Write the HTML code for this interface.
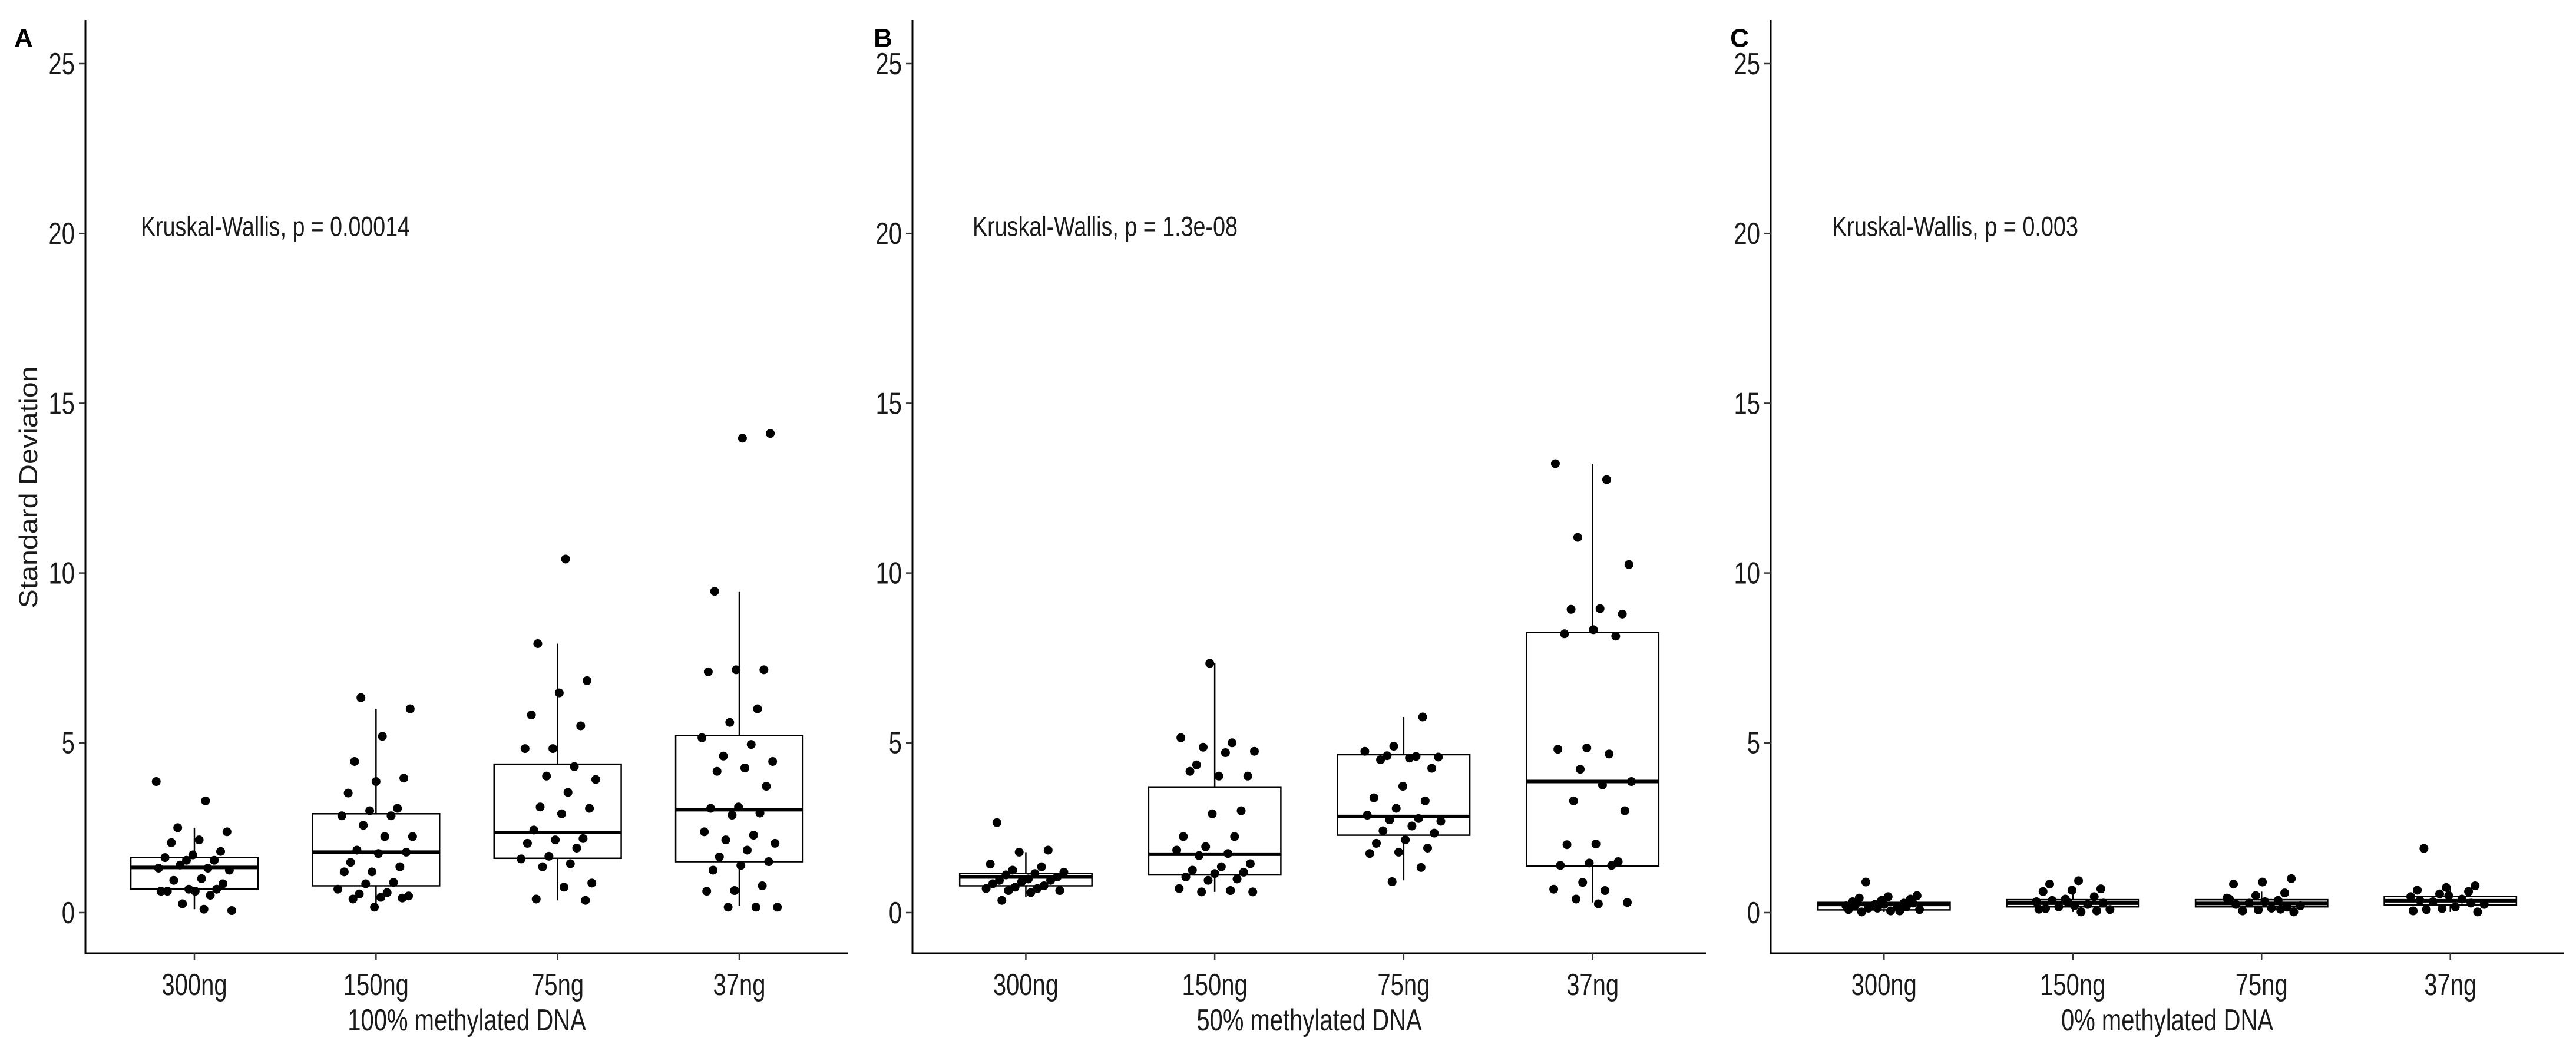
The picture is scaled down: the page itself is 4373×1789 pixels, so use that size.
<!DOCTYPE html>
<html><head><meta charset="utf-8"><style>
html,body{margin:0;padding:0;background:#fff;}
svg{display:block;font-family:"Liberation Sans",Arial,sans-serif;}
</style></head><body>
<svg id="chart" width="4373" height="1789" viewBox="0 0 4373 1789" xmlns="http://www.w3.org/2000/svg"></svg>
<script>
const categories = ["300ng","150ng","75ng","37ng"];
const yTicks = [0,5,10,15,20,25];
const panelLetters = ["A","B","C"];
const panelTitles = ["100% methylated DNA","50% methylated DNA","0% methylated DNA"];
const pLabels = ["Kruskal-Wallis, p = 0.00014","Kruskal-Wallis, p = 1.3e-08","Kruskal-Wallis, p = 0.003"];
// box stats per panel: [q1, median, q3, whiskerLow, whiskerHigh] per category
const boxA = [[0.69,1.33,1.62,0.1,2.5],[0.79,1.78,2.91,0.2,6.0],[1.6,2.36,4.37,0.36,7.92],[1.5,3.03,5.21,0.2,9.46]];
const boxB = [[0.79,1.05,1.15,0.45,1.78],[1.11,1.72,3.7,0.61,7.34],[2.28,2.83,4.65,0.95,5.76],[1.37,3.86,8.25,0.3,13.22]];
const boxC = [[0.08,0.24,0.3,0.02,0.5],[0.17,0.28,0.38,0.02,0.66],[0.17,0.27,0.38,0.02,0.62],[0.23,0.35,0.48,0.02,0.8]];
// raw points
const ptsA300 = [3.86,3.29,2.5,2.38,2.14,2.06,1.8,1.7,1.62,1.54,1.54,1.31,1.31,1.4,1.25,1.0,0.95,0.85,0.63,0.63,0.69,0.69,0.63,0.51,0.26,0.06,0.1];
const ptsA150 = [6.33,6.0,5.19,4.45,3.96,3.86,3.52,3.07,3.0,2.85,2.85,2.57,2.24,2.24,1.84,1.78,1.74,1.48,1.35,1.2,1.2,0.89,0.85,0.69,0.59,0.55,0.49,0.45,0.4,0.43,0.16];
const ptsA75 = [10.41,7.92,6.83,6.47,5.82,5.5,4.83,4.83,4.3,4.02,3.92,3.54,3.11,3.07,2.91,2.43,2.18,2.14,2.04,1.9,1.66,1.58,1.44,1.35,0.87,0.75,0.4,0.36];
const ptsA37 = [14.11,13.97,9.46,7.15,7.15,7.09,6.0,5.6,5.15,4.95,4.61,4.45,4.26,4.16,3.72,3.11,3.07,2.93,2.87,2.38,2.28,2.14,2.04,1.84,1.64,1.5,1.39,1.25,0.79,0.65,0.63,0.16,0.16,0.16];
const ptsB300 = [2.65,1.84,1.78,1.43,1.35,1.25,1.19,1.15,1.11,1.05,0.99,0.95,0.95,0.91,0.85,0.79,0.75,0.71,0.71,0.65,0.65,0.59,0.36];
const ptsB150 = [7.34,5.15,5.0,4.87,4.75,4.71,4.35,4.02,4.02,4.16,3.0,2.91,2.24,2.24,1.94,1.84,1.74,1.68,1.44,1.35,1.25,1.19,1.15,1.05,0.99,0.95,0.71,0.65,0.61,0.61];
const ptsB75 = [5.76,4.9,4.75,4.6,4.62,4.58,4.55,4.5,4.25,3.72,3.38,3.29,3.07,2.87,2.77,2.73,2.69,2.55,2.41,2.34,2.14,2.04,1.9,1.78,1.74,1.33,0.91];
const ptsB37 = [13.22,12.75,11.05,10.25,8.95,8.93,8.79,8.33,8.21,8.14,4.85,4.81,4.67,4.22,3.86,3.76,3.29,3.0,2.02,2.0,1.5,1.46,1.39,1.39,0.89,0.69,0.65,0.4,0.3,0.26];
const ptsC300 = [0.9,0.5,0.47,0.43,0.4,0.36,0.32,0.28,0.24,0.2,0.17,0.13,0.09,0.05,0.02,0.28,0.24,0.2,0.17,0.13,0.09,0.05];
const ptsC150 = [0.94,0.84,0.7,0.66,0.62,0.47,0.4,0.32,0.24,0.17,0.09,0.02,0.36,0.28,0.2,0.12,0.05,0.3,0.1];
const ptsC75 = [1.0,0.9,0.84,0.58,0.5,0.43,0.36,0.28,0.2,0.13,0.05,0.02,0.32,0.24,0.16,0.08,0.4,0.1];
const ptsC37 = [1.89,0.79,0.74,0.66,0.62,0.55,0.47,0.4,0.32,0.24,0.17,0.09,0.02,0.5,0.36,0.28,0.12,0.05];

const panels = [
  {x0:145, x1:1440, box:boxA, pts:[ptsA300,ptsA150,ptsA75,ptsA37], letterX:40, pX:239, pW:457, titleY:true},
  {x0:1549, x1:2896, box:boxB, pts:[ptsB300,ptsB150,ptsB75,ptsB37], letterX:1499, pX:1651, pW:450},
  {x0:3006, x1:4352, box:boxC, pts:[ptsC300,ptsC150,ptsC75,ptsC37], letterX:2953, pX:3110, pW:418}
];
const yTop = 34, yAxisY = 1618;
function yScale(v){ return 1549 - 57.64*v; }
const NS = "http://www.w3.org/2000/svg";
const svg = document.getElementById('chart');
function mk(tag, attrs, parent){
  const e = document.createElementNS(NS, tag);
  for (const k in attrs) e.setAttribute(k, attrs[k]);
  (parent||svg).appendChild(e);
  return e;
}
function stretchText(str, x, y, size, anchor, parent, len){
  const g = mk('g', {transform:`translate(${x},${y}) scale(1,1.3)`}, parent);
  const t = mk('text', {x:0, y:0, 'font-size':size, 'text-anchor':anchor, 'dominant-baseline':'central', fill:'#1a1a1a'}, g);
  if (len){ t.setAttribute('textLength', len); t.setAttribute('lengthAdjust','spacingAndGlyphs'); }
  t.textContent = str;
  return t;
}
panels.forEach((p, pi) => {
  const g = mk('g', {});
  
  
  const unit = (p.x1 - p.x0) / 4.2;
  const xScale = i => p.x0 + unit * (0.6 + i);
  const ya = mk('line', {x1:p.x0, y1:yTop, x2:p.x0, y2:yAxisY+1.5, stroke:'#000', 'stroke-width':3}, g);
  
  
  const xa = mk('line', {x1:p.x0-1.5, y1:yAxisY, x2:p.x1, y2:yAxisY, stroke:'#000', 'stroke-width':3}, g);
  
  
  yTicks.forEach(t => {
    const y = yScale(t);
    mk('line', {x1:p.x0-11, y1:y, x2:p.x0, y2:y, stroke:'#333', 'stroke-width':2.5}, g);
    const tl = stretchText(String(t), p.x0-18, y, 40, 'end', g);
    
    
  });
  categories.forEach((c, i) => {
    const cx = xScale(i);
    mk('line', {x1:cx, y1:yAxisY, x2:cx, y2:yAxisY+11, stroke:'#333', 'stroke-width':2.5}, g);
    const tl = stretchText(c, cx, 1671, 40, 'middle', g);
    
    
    const [q1, med, q3, lo, hi] = p.box[i];
    const bw = unit * 0.7;
    const bg = mk('g', {}, g);
    
    
    mk('line', {x1:cx, y1:yScale(hi), x2:cx, y2:yScale(q3), stroke:'#000', 'stroke-width':2.5}, bg);
    mk('line', {x1:cx, y1:yScale(q1), x2:cx, y2:yScale(lo), stroke:'#000', 'stroke-width':2.5}, bg);
    mk('rect', {x:cx-bw/2, y:yScale(q3), width:bw, height:Math.max(yScale(q1)-yScale(q3),1), fill:'#fff', stroke:'#000', 'stroke-width':2.5}, bg);
    mk('line', {x1:cx-bw/2, y1:yScale(med), x2:cx+bw/2, y2:yScale(med), stroke:'#000', 'stroke-width':6}, bg);
    p.pts[i].forEach((v, k) => {
      const jit = (((k*62 + i*29 + pi*13) % 97) / 96 - 0.5) * 0.42 * unit;
      const d = mk('circle', {cx:cx+jit, cy:yScale(v), r:7.5, fill:'#000'}, g);
      
      
    });
  });
  const tt = stretchText(panelTitles[pi], (p.x0+p.x1)/2, 1731, 40, 'middle', g);
  
  
  const pl = stretchText(pLabels[pi], p.pX, 384, 36, 'start', g, p.pW);
  
  
  const lt = mk('text', {x:p.letterX, y:65, 'font-size':44, 'font-weight':'bold', 'text-anchor':'middle', 'dominant-baseline':'central'}, g);
  lt.textContent = panelLetters[pi];
  
  
  if (p.titleY){
    const yg = mk('g', {transform:'translate(48,827) rotate(-90) scale(1,1.1)'}, g);
    const yt = mk('text', {x:0, y:0, 'font-size':40, 'text-anchor':'middle', 'dominant-baseline':'central', fill:'#1a1a1a', textLength:411, lengthAdjust:'spacingAndGlyphs'}, yg);
    yt.textContent = 'Standard Deviation';
    
    
  }
});
</script>
</body></html>
